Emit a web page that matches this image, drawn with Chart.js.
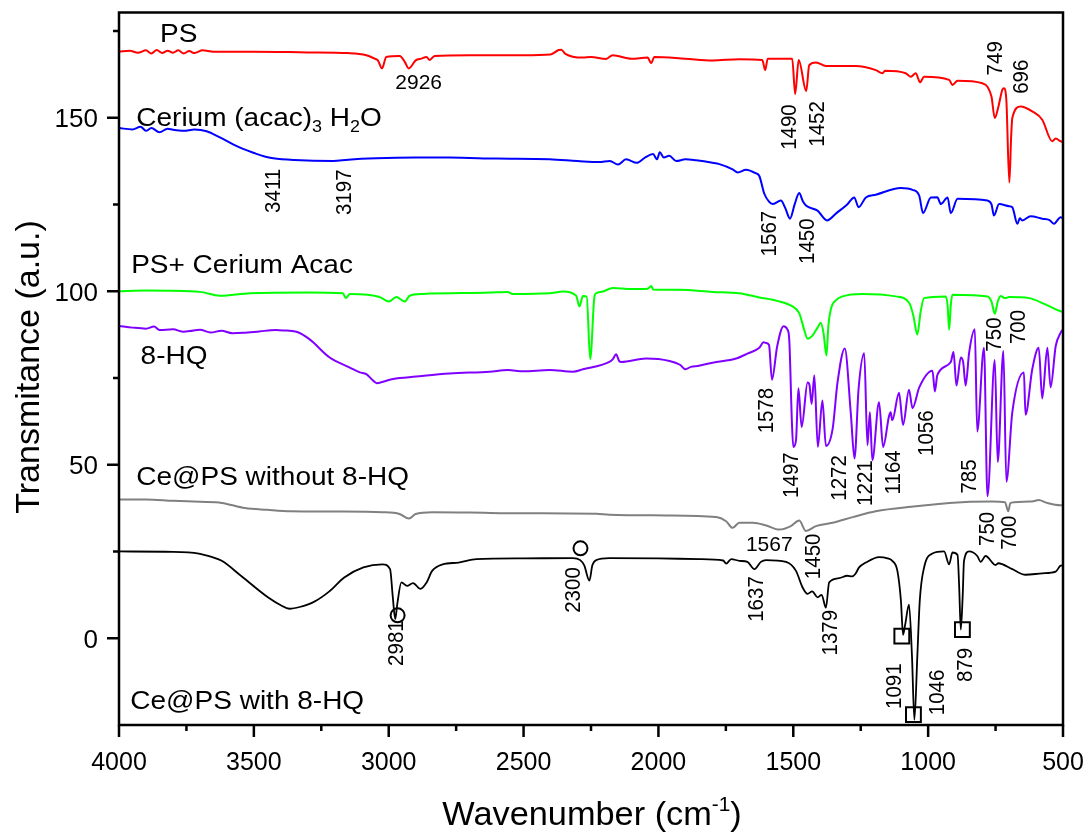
<!DOCTYPE html>
<html><head><meta charset="utf-8">
<script src="https://cdn.jsdelivr.net/npm/chart.js@4/dist/chart.umd.min.js"></script>
<style>html,body{margin:0;padding:0;background:#fff}canvas{display:block}</style>
</head><body>
<canvas id="c" width="1091" height="838"></canvas>
<script>
// ---------- data (wavenumber cm-1, transmittance a.u.) ----------
const psWave = [4000,3960,3930,3900,3880,3860,3840,3820,3800,3780,3760,3740,3720,3690,3650,3500,3300,3150,3083,3052,3040,3025,3009,2959,2940,2926,2900,2879,2860,2848,2830,2700,2500,2400,2370,2360,2345,2281,2250,2194,2170,2100,2040,2027,2015,1900,1800,1700,1615,1604,1595,1504,1493,1480,1452,1441,1416,1379,1268,1194,1169,1160,1083,1064,1046,1030,1015,922,910,891,799,780,765,753,740,725,719,710,699,692,688,657,614,577,540,527,509,500];
const psT    = [169,169.3,168.7,169.4,168.5,169.5,168.6,169.3,168.7,169.4,168.5,169.2,168.6,169.4,169,169,168.8,168.6,168,167,166.5,164.2,167.5,167.8,166,164.2,166.5,167,167.5,166.6,167.8,168,168,168.2,169.5,169.6,168.4,167.3,167.5,166.9,168,167,167.3,165.7,167.5,167,166.5,166.8,166.6,163.7,167,167,156.8,166.6,157.7,165.1,165.9,164.9,164.9,163.7,162.8,163.5,162.8,161.8,162.8,160.2,161.8,160.9,159.4,160.6,159.9,158.9,156,149.9,153,158,158.5,155,131.3,145,149.9,153.2,151.8,149.4,143.2,144,143.2,143];

const ceWave = [4000,3950,3920,3900,3880,3850,3820,3800,3760,3720,3675,3626,3577,3540,3502,3460,3428,3350,3206,3150,3046,2900,2774,2600,2404,2300,2220,2180,2150,2120,2080,2050,2020,2005,1995,1980,1960,1934,1900,1860,1800,1774,1725,1706,1675,1640,1626,1607,1590,1577,1546,1530,1512,1495,1478,1465,1453,1410,1375,1340,1300,1274,1258,1231,1194,1101,1058,1033,1019,990,966,953,928,916,891,780,765,756,737,700,688,669,660,651,620,577,550,533,520,509,500];
const ceT    = [147,146.6,147.4,146.2,147,145.8,146.8,146.5,146.2,146.6,146.1,144.3,142.3,141,139.9,138.8,138.3,137.8,137.5,137.9,138.3,138.5,138.5,138.2,138,137.5,137.2,137.5,136.5,138,137,138.5,139.5,138,140,138.5,139,137.5,138,137.7,137,136.6,135.1,134.2,135,134,133.2,128,125.8,125.1,126.1,124,120.9,125,128.3,126,124.7,123.2,120.4,122.5,125,127,124.2,127,127.8,129.7,129.2,127.5,122.5,127,127.1,125.1,127,122.5,126.6,126.1,125,121.8,125.1,124.5,124.2,119.4,121,120.4,121.6,120.9,120.5,119.4,120.5,121.3,121];

const mixWave = [4000,3900,3700,3626,3515,3300,3170,3159,3144,3080,3033,2999,2972,2941,2922,2873,2626,2560,2540,2404,2354,2305,2293,2280,2266,2253,2237,2231,2206,2169,2100,2040,2027,2020,1922,1800,1700,1626,1560,1503,1478,1460,1447,1429,1410,1398,1388,1377,1370,1361,1340,1317,1243,1120,1070,1055,1040,1028,1015,935,928,922,916,910,780,765,753,742,731,715,700,626,560,509,500];
const mixT    = [100,100.2,99.8,98.7,99.4,99.6,99.4,98,99.2,99,98.3,97,98.3,97,98.7,99.2,99.6,99.8,99.2,99.4,99.9,98.7,95.6,98.6,98.4,80.4,98.6,99.4,99.9,100.9,100.6,100.7,101.5,100.5,100.4,99.8,99.4,98.2,97.2,95.6,93.7,89,86.3,87.2,89.5,90.9,88,81.5,90,94.7,97.5,98.5,99.2,98.5,96.6,93,87.5,94,98,98.5,96,88.9,96,99,98.5,97,93.5,97,98.6,98,98.3,98,96,94.2,94];

const hqWave = [4000,3950,3900,3870,3850,3800,3760,3737,3700,3660,3620,3580,3540,3480,3420,3391,3342,3293,3219,3144,3107,3083,3064,3044,3021,2984,2898,2774,2626,2558,2502,2404,2317,2280,2182,2169,2157,2145,2138,2046,1959,1920,1900,1880,1850,1799,1712,1670,1626,1610,1601,1590,1579,1560,1536,1522,1515,1505,1500,1490,1481,1469,1447,1440,1432,1422,1409,1392,1379,1354,1336,1309,1287,1273,1258,1237,1225,1216,1207,1182,1167,1145,1139,1133,1108,1093,1071,1058,1033,984,975,966,916,906,895,879,870,861,848,827,818,793,780,753,742,721,710,688,645,639,614,590,577,558,546,527,509,500];
const hqT    = [90,89.5,89.2,89.8,88.8,89,88.3,88.5,88.9,88.1,88.6,87.9,88,88.4,88.8,88.7,88.3,86.1,80.9,78,76.6,76.1,74.7,73.5,73.9,74.7,75.4,76.3,76.8,77.3,76.9,77.3,76.8,77.5,79.6,80.4,81.8,79.8,79.6,80.6,79.9,78.8,77.5,78.2,78.5,79.4,80.6,82,83.7,85.3,85.1,84.5,74.5,84,89.9,89,86.1,62,55.1,57,72,60.9,73.7,73,67.5,75.8,55.1,68.5,55.4,60.4,73.7,83.5,65.1,51.8,71.8,82.1,55.6,65.1,51.3,68,55.1,64,65.1,62.8,70.7,61.5,71.6,66.3,72.3,77.1,71.1,75.8,79.6,82.5,72.8,80.9,79.5,72.8,82.3,89,59.6,83.7,40.9,80.2,50.8,82.8,45.1,65.1,76.6,64.4,77.5,83.7,69.1,83.7,72.3,84.2,88,89];

const noHqWave = [4000,3900,3800,3700,3619,3533,3450,3364,3200,3023,2960,2925,2900,2839,2700,2500,2230,2182,1972,1786,1749,1725,1700,1650,1600,1552,1509,1478,1453,1416,1354,1280,1194,1046,922,763,715,703,695,615,590,560,509,500];
const noHqT    = [40,40,39.6,39.3,39,37.5,37,36.6,36.5,36.3,35.8,34.5,35.8,36.3,36.2,36,35.9,35.6,35.4,34.9,33.7,31.8,33.3,33.3,32.5,31.3,32.3,33.9,30.9,32.3,33.3,34.9,36.6,38,39,39.4,39.2,36.6,39,39.4,39.8,39,38.3,38.3];

const withHqWave = [4000,3800,3704,3660,3619,3548,3448,3400,3368,3330,3279,3220,3165,3094,3023,2995,2985,2976,2968,2953,2932,2910,2882,2860,2839,2800,2741,2675,2500,2317,2290,2275,2256,2245,2231,2182,2000,1848,1760,1749,1730,1700,1670,1644,1620,1601,1527,1490,1466,1447,1430,1410,1395,1379,1367,1330,1300,1282,1270,1256,1231,1182,1150,1133,1114,1101,1093,1085,1071,1060,1051,1040,1031,1015,984,941,922,910,891,885,879,872,867,848,818,805,787,750,740,688,639,577,527,509,500];
const withHqT    = [25,24.9,24.4,23.5,22.3,18,11.8,9.5,8.5,9,10.4,13.5,17.5,20.4,21.3,19.9,12,5.5,10,16.1,15.1,15.9,14.2,16,19.4,21.3,21.8,22.8,23,23.1,22.5,21,16.6,21,22.5,23.1,23,22.8,22.4,21.5,22.8,22.3,22,19.9,22,22.5,22,19.4,14.7,12.8,13.5,11.8,12.5,8.8,16.1,17.3,18,17.8,18.5,20.4,21.8,23.4,23,22.3,19.4,10.9,1,4,9.7,-5,-23.5,-5,10.9,20.4,24.4,25,21.3,24.7,24,15,2.5,12,22.3,25,23.7,22,23.7,21.1,21.6,19.9,18.3,18.7,19.2,20.9,21];

// marker positions
const circleWave = [2967, 2289];
const circleT    = [6.6, 25.9];
const squareWave = [1097.6, 1054.5, 873];
const squareT    = [0.6, -22, 2.5];

// axis ticks
const xMajorTicks = [4000,3500,3000,2500,2000,1500,1000,500];
const xMinorTicks = [3750,3250,2750,2250,1750,1250,750];
const yMajorTicks = [0,50,100,150];
const yMinorTicks = [25,75,125,175];

// peak annotations: [text, wavenumber, transmittance (label centre), rotated]
const peakLabels = [
  ['2926',2889,160.5,false],
  ['749',756.5,167.1,true], ['696',660.4,161.8,true],
  ['1490',1521,147.3,true], ['1452',1416,148.2,true],
  ['3411',3434.5,128.9,true], ['3197',3169,128.5,true],
  ['1567',1595,116.6,true], ['1450',1453,114.4,true],
  ['750',761.7,87.5,true], ['700',671.7,89.7,true],
  ['1578',1605.6,65.6,true], ['1497',1512.7,47,true], ['1272',1333.3,46.2,true],
  ['1221',1237,44.7,true], ['1164',1136,47.8,true], ['1056',1012,59.1,true], ['785',854,46.6,true],
  ['1567',1589,27.2,false], ['1450',1432.6,23.6,true], ['750',786.7,31.5,true], ['700',706.2,30.4,true],
  ['2981',2978,-1.4,true], ['2300',2320,13.9,true], ['1637',1644.4,11.3,true], ['1379',1368.5,1.6,true],
  ['1091',1132,-13.8,true], ['1046',971.9,-15.6,true], ['879',868.9,-7.7,true]
];

// series names: [parts, wavenumber (left), transmittance (baseline)]
const seriesNames = [
  [[['PS','n']], 3848, 171.7],
  [[['Cerium (acac)','n'],['3','sub'],[' H','n'],['2','sub'],['O','n']], 3936, 147.5],
  [[['PS+ Cerium Acac','n']], 3955, 105.3],
  [[['8-HQ','n']], 3920, 79],
  [[['Ce@PS without 8-HQ','n']], 3936, 44.2],
  [[['Ce@PS with 8-HQ','n']], 3958, -20.3]
];

const xTitle = [['Wavenumber (cm','n'],['-1','sup'],[')','n']];
const yTitle = 'Transmitance (a.u.)';

// ---------- chart ----------
const FONT = '"Liberation Sans", Arial, Helvetica, sans-serif';
function pts(w, t){ return w.map((v,i)=>({x:v, y:t[i]})); }
function lineDs(w,t,color,width){
  return {data:pts(w,t), borderColor:color, borderWidth:width, showLine:true, pointRadius:0, fill:false, tension:0, cubicInterpolationMode:'monotone'};
}

// rich text with sub/superscripts; sx = horizontal stretch
function drawRich(ctx, parts, x, y, size, align, sx){
  const widths = parts.map(p=>{
    ctx.font = (p[1]==='n'? size : Math.round(size*0.62)) + 'px ' + FONT;
    return ctx.measureText(p[0]).width;
  });
  const total = widths.reduce((a,b)=>a+b,0);
  ctx.save();
  ctx.translate(x, y); ctx.scale(sx, 1);
  let cx = align==='center' ? -total/2 : 0;
  ctx.textAlign='left'; ctx.textBaseline='alphabetic';
  parts.forEach((p,i)=>{
    ctx.font = (p[1]==='n'? size : Math.round(size*0.62)) + 'px ' + FONT;
    let dy = 0;
    if (p[1]==='sub') dy = size*0.22;
    if (p[1]==='sup') dy = -size*0.42;
    ctx.fillText(p[0], cx, dy);
    cx += widths[i];
  });
  ctx.restore();
}

const decor = {
  id:'decor',
  afterDraw(chart){
    const ctx = chart.ctx, a = chart.chartArea, xs = chart.scales.x, ys = chart.scales.y;
    ctx.save();
    ctx.fillStyle='#000'; ctx.strokeStyle='#000';
    // frame
    ctx.lineWidth = 2.5;
    ctx.strokeRect(a.left, a.top, a.right-a.left, a.bottom-a.top);
    // ticks
    ctx.beginPath();
    xMajorTicks.forEach(v=>{const p=xs.getPixelForValue(v); ctx.moveTo(p,a.bottom); ctx.lineTo(p,a.bottom+12);});
    xMinorTicks.forEach(v=>{const p=xs.getPixelForValue(v); ctx.moveTo(p,a.bottom); ctx.lineTo(p,a.bottom+6);});
    yMajorTicks.forEach(v=>{const p=ys.getPixelForValue(v); ctx.moveTo(a.left,p); ctx.lineTo(a.left-12,p);});
    yMinorTicks.forEach(v=>{const p=ys.getPixelForValue(v); ctx.moveTo(a.left,p); ctx.lineTo(a.left-6,p);});
    ctx.stroke();
    // tick labels
    ctx.font = '25px ' + FONT;
    ctx.textAlign='center'; ctx.textBaseline='alphabetic';
    xMajorTicks.forEach(v=>{ ctx.fillText(String(v), xs.getPixelForValue(v), a.bottom+45); });
    ctx.font = '26px ' + FONT;
    ctx.textAlign='right';
    yMajorTicks.forEach(v=>{ ctx.fillText(String(v), a.left-21, ys.getPixelForValue(v)+9.5); });
    // axis titles
    drawRich(ctx, xTitle, (a.left+a.right)/2 + 1, 825, 33, 'center', 1.04);
    ctx.save();
    ctx.translate(38.5, 367); ctx.rotate(-Math.PI/2);
    ctx.font = '34px ' + FONT; ctx.textAlign='center'; ctx.textBaseline='alphabetic';
    ctx.fillText(yTitle, 0, 0);
    ctx.restore();
    // series names
    seriesNames.forEach(s=>{ drawRich(ctx, s[0], xs.getPixelForValue(s[1]), ys.getPixelForValue(s[2]), 25, 'left', 1.12); });
    // peak labels
    ctx.textAlign='center'; ctx.textBaseline='alphabetic';
    peakLabels.forEach(l=>{
      const px = xs.getPixelForValue(l[1]), py = ys.getPixelForValue(l[2]);
      if (l[3]) {
        const fs = 20.5, ch = fs*0.716;
        ctx.font = fs + 'px ' + FONT;
        ctx.save(); ctx.translate(px,py); ctx.scale(1.12,1); ctx.rotate(-Math.PI/2);
        ctx.fillText(l[0], 0, ch/2); ctx.restore();
      } else {
        const fs = 21, ch = fs*0.716;
        ctx.font = fs + 'px ' + FONT;
        ctx.fillText(l[0], px, py + ch/2);
      }
    });
    ctx.restore();
  }
};

new Chart(document.getElementById('c'), {
  type:'scatter',
  data:{ datasets:[
    lineDs(psWave, psT, '#ff0000', 2),
    lineDs(ceWave, ceT, '#0000ff', 2),
    lineDs(mixWave, mixT, '#00ff00', 2),
    lineDs(hqWave, hqT, '#8000ff', 2),
    lineDs(noHqWave, noHqT, '#808080', 2),
    lineDs(withHqWave, withHqT, '#000000', 1.8),
    {data:pts(circleWave, circleT), showLine:false, pointStyle:'circle', pointRadius:7, borderColor:'#000', borderWidth:2, backgroundColor:'rgba(0,0,0,0)'},
    {data:pts(squareWave, squareT), showLine:false, pointStyle:'rect', pointRadius:10.5, borderColor:'#000', borderWidth:2, backgroundColor:'rgba(0,0,0,0)'}
  ]},
  options:{
    responsive:false, animation:false, devicePixelRatio:1,
    layout:{padding:{left:119, right:28, top:7, bottom:113}},
    plugins:{legend:{display:false}, tooltip:{enabled:false}},
    scales:{
      x:{type:'linear', reverse:true, min:500, max:4000, display:false},
      y:{type:'linear', min:-25, max:180.3, display:false}
    }
  },
  plugins:[decor]
});
</script>
</body></html>
